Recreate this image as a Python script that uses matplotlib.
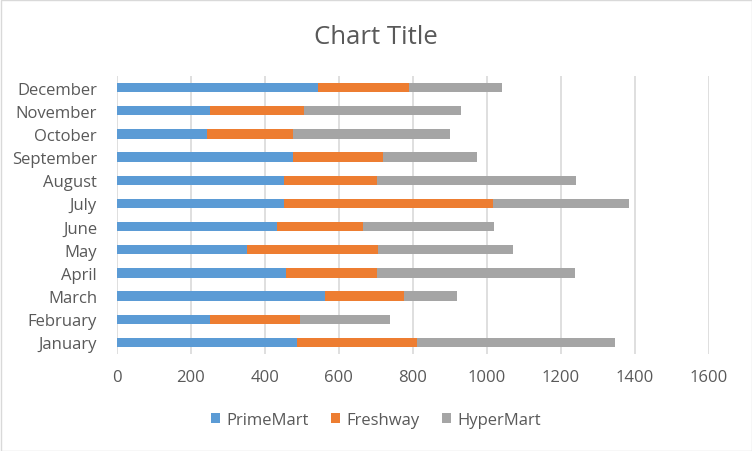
import matplotlib.pyplot as plt
import numpy as np
from matplotlib.patches import Rectangle

months = ["January", "February", "March", "April", "May", "June",
          "July", "August", "September", "October", "November", "December"]
primemart = [487, 252, 563, 457, 352, 433, 451, 451, 477, 244, 252, 544]
freshway = [325, 243, 213, 246, 353, 233, 567, 252, 243, 233, 253, 246]
hypermart = [534, 244, 144, 535, 366, 354, 366, 538, 254, 423, 425, 250]
xticks = [0, 200, 400, 600, 800, 1000, 1200, 1400, 1600]

plt.rcParams['font.family'] = ['Open Sans', 'DejaVu Sans']
text_col = "#595959"

fig = plt.figure(figsize=(7.52, 4.52), dpi=100)
ax = fig.add_axes([116.5 / 752, 97 / 452, (709 - 116.5) / 752, 278 / 452])

y = np.arange(len(months))
h = 0.4
left = np.zeros(len(months))
for vals, name, col in [(primemart, "PrimeMart", "#5b9bd5"),
                        (freshway, "Freshway", "#ed7d31"),
                        (hypermart, "HyperMart", "#a5a5a5")]:
    ax.barh(y, vals, height=h, left=left, color=col, label=name, zorder=3)
    left = left + np.array(vals)

ax.set_xlim(0, 1600)
ax.set_ylim(-0.5, len(months) - 0.5)
ax.set_xticks(xticks)
ax.set_yticks(y)
ax.set_yticklabels(months)
ax.tick_params(axis='both', length=0, colors=text_col, labelsize=12)
ax.tick_params(axis='x', pad=11)
ax.tick_params(axis='y', pad=14)
ax.grid(axis='x', color="#d9d9d9", linewidth=1.2, zorder=0)
for s in ax.spines.values():
    s.set_visible(False)

fig.text(0.5, 1 - 37 / 452, "Chart Title", ha='center', va='center',
         fontsize=18.5, color=text_col)
fig.legend(loc='center', bbox_to_anchor=(0.5, 1 - 421 / 452), ncol=3,
           frameon=False, fontsize=12, handlelength=0.55, handleheight=0.55,
           columnspacing=1.3, handletextpad=0.4, labelcolor=text_col)

fig.patches.append(Rectangle((0.5 / 752, 0.5 / 452), 751 / 752, 451 / 452,
                             transform=fig.transFigure, fill=False,
                             edgecolor="#d9d9d9", linewidth=1))

fig.savefig("out.png", dpi=100)
